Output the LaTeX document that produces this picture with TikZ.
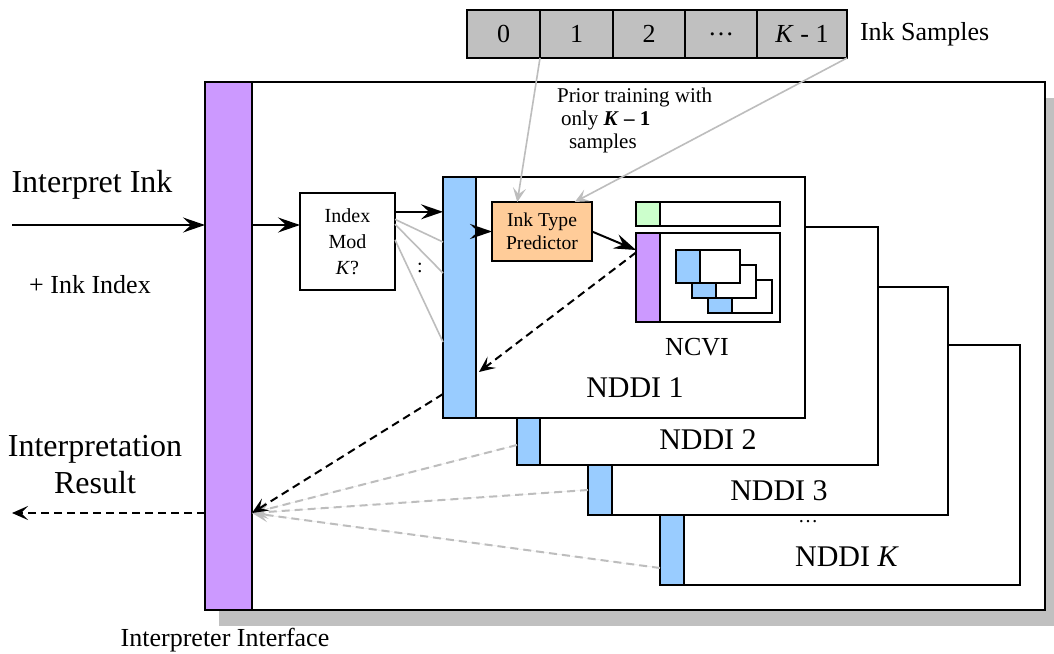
\documentclass[tikz,border=0pt]{standalone}
\usepackage{fontspec}
\setmainfont{Liberation Serif}
\usetikzlibrary{arrows.meta,positioning,shadows}
\definecolor{ifpurple}{HTML}{CC99FF}
\definecolor{ddblue}{HTML}{99CCFF}
\definecolor{predorange}{HTML}{FFCC99}
\definecolor{cvgreen}{HTML}{CCFFCC}
\definecolor{cellgray}{HTML}{C0C0C0}
\definecolor{linegray}{HTML}{BDBDBD}
\tikzset{%
   box/.style={draw=black, line width=1pt, fill=white, inner sep=0pt, outer sep=0pt},
   sz/.style 2 args={minimum width=#1*0.5pt, minimum height=#2*0.5pt},
   cell/.style={box, fill=cellgray, font=\fontsize{13}{15}\selectfont},
   bar/.style={box, fill=ddblue},
   arr/.style={line width=1pt, -{Stealth[length=11pt,width=7.5pt,inset=4pt]}},
   ret/.style={line width=1pt, dash pattern=on 4pt off 2.5pt, -{Stealth[length=8pt,width=7pt,inset=3.5pt]}},
   gret/.style={ret, draw=linegray, fill=linegray},
   garr/.style={draw=linegray, fill=linegray, line width=0.8pt, -{Stealth[length=7pt,width=6.5pt,inset=3pt]}},
   gline/.style={draw=linegray, line width=0.8pt},
   big/.style={font=\fontsize{16}{18.5}\selectfont},
   mid/.style={font=\fontsize{13}{15}\selectfont},
   ddlbl/.style={font=\fontsize{15}{17}\selectfont},
   small/.style={font=\fontsize{10}{13}\selectfont},
}

\begin{document}
\begin{tikzpicture}[x=0.5pt, y=-0.5pt]
   \useasboundingbox (0,0) rectangle (1054,653);
   % interpreter frame
   \node[box, sz={840}{528}, drop shadow={shadow xshift=7pt, shadow yshift=-8pt, fill=cellgray, opacity=1}] (sys) at (625,346) {};
   \node[box, fill=ifpurple, sz={47}{528}] (iface) at (228.5,346) {};
   \node[mid] (ifl) at (225,640) {Interpreter Interface};
   % ink samples
   \node[cell, sz={73}{48}] (s0) at (503.5,34) {0};
   \node[cell, sz={73}{48}, right=0pt of s0] (s1) {1};
   \node[cell, sz={72}{48}, right=0pt of s1] (s2) {2};
   \node[cell, sz={72}{48}, right=0pt of s2] (s3) {\dots};
   \node[cell, sz={90}{48}, right=0pt of s3] (s4) {\textit{K} - 1};
   \node[mid, right=3pt of s4] (sl) {Ink Samples};
   % NDDI stack, back to front
   \node[box, sz={336}{240}] (wK) at (852,465) {};
   \node[bar, sz={24}{240}, left=0pt of wK] (bK) {};
   \node[box, sz={336}{228}] (w3) at (780,401) {};
   \node[bar, sz={24}{228}, left=0pt of w3] (b3) {};
   \node[box, sz={338}{238}] (w2) at (709,346) {};
   \node[bar, sz={23}{238}, left=0pt of w2] (b2) {};
   \node[box, sz={329}{241}] (w1) at (640.5,297.5) {};
   \node[bar, sz={33}{241}, left=0pt of w1] (b1) {};
   \node[ddlbl] (n1) at (635,388) {NDDI 1};
   \node[ddlbl] (n2) at (708,440) {NDDI 2};
   \node[ddlbl] (n3) at (779,491) {NDDI 3};
   \node[small] (nd) at (808,522) {\dots};
   \node[ddlbl] (nK) at (847,557) {NDDI \textit{K}};
   % NCVI
   \node[box, fill=cvgreen, sz={24}{24}] (cg) at (648,214) {};
   \node[box, sz={120}{24}, right=0pt of cg] (cgw) {};
   \node[box, fill=ifpurple, sz={24}{89}] (cp) at (648,277.5) {};
   \node[box, sz={120}{89}, right=0pt of cp] (cpw) {};
   \node[box, sz={40}{33}] (l3) at (752,296.5) {};
   \node[bar, sz={24}{33}, left=0pt of l3] (l3b) {};
   \node[box, sz={40}{33}] (l2) at (736,281.5) {};
   \node[bar, sz={24}{33}, left=0pt of l2] (l2b) {};
   \node[box, sz={40}{33}] (l1) at (720,266.5) {};
   \node[bar, sz={24}{33}, left=0pt of l1] (l1b) {};
   \node[mid] (cv) at (697,347) {NCVI};
   % predictor and index
   \node[box, fill=predorange, sz={100}{59}, font=\fontsize{9.8}{11.5}\selectfont, align=center] (pred) at (542,231.5) {Ink Type\\Predictor};
   \node[box, sz={95}{97}, small, align=center] (idx) at (347.5,241.5) {Index\\Mod\\\textit{K}?};
   % labels
   \node[big] (inl) at (92,185) {Interpret Ink};
   \node[mid] (ixl) at (90,285) {+ Ink Index};
   \node[big, align=center] (resl) at (95,465) {Interpretation\\Result};
   \node[font=\fontsize{10.5}{11.5}\selectfont, align=left, anchor=west] (prior) at (550,120)
      {Prior training with\\\hspace*{2pt}only \textbf{\textit{K} – 1}\\\hspace*{6pt}samples};
   \node[small] (dots) at (420,268) {:};
   % connectors
   \coordinate (src) at (12,225);
   \draw[arr] (src) -- (src -| iface.west);
   \draw[arr] (iface.east |- src) -- (idx.west |- src);
   \draw[arr] (idx.32) -- (b1.west |- idx.32);
   \draw[gline] (idx.25) -- ([shift={(0,-55.5)}]b1.west);
   \draw[gline] (idx.20) -- ([shift={(0,-24.5)}]b1.west);
   \draw[gline] (idx.2) -- ([shift={(0,44.5)}]b1.west);
   \draw[arr] (b1.east |- pred.west) -- (pred.west);
   \draw[arr] (pred.east) -- ([shift={(0,-27.5)}]cp.west);
   \draw[ret] ([shift={(0,-25)}]cp.west) -- ([shift={(3,74.5)}]b1.east);
   \coordinate (back) at ([shift={(0,167)}]iface.east);
   \draw[gret] ([shift={(0,99)}]b2.west) -- (back);
   \draw[gret] ([shift={(0,89)}]b3.west) -- (back);
   \draw[gret] ([shift={(0,103)}]bK.west) -- (back);
   \draw[ret] ([shift={(0,96.5)}]b1.west) -- (back);
   \coordinate (out) at (12,513);
   \draw[ret] (iface.west |- back) -- (out);
   \draw[garr] (s1.south west) -- (pred.130);
   \draw[garr] (s4.south east) -- (pred.42);
\end{tikzpicture}
\end{document}
